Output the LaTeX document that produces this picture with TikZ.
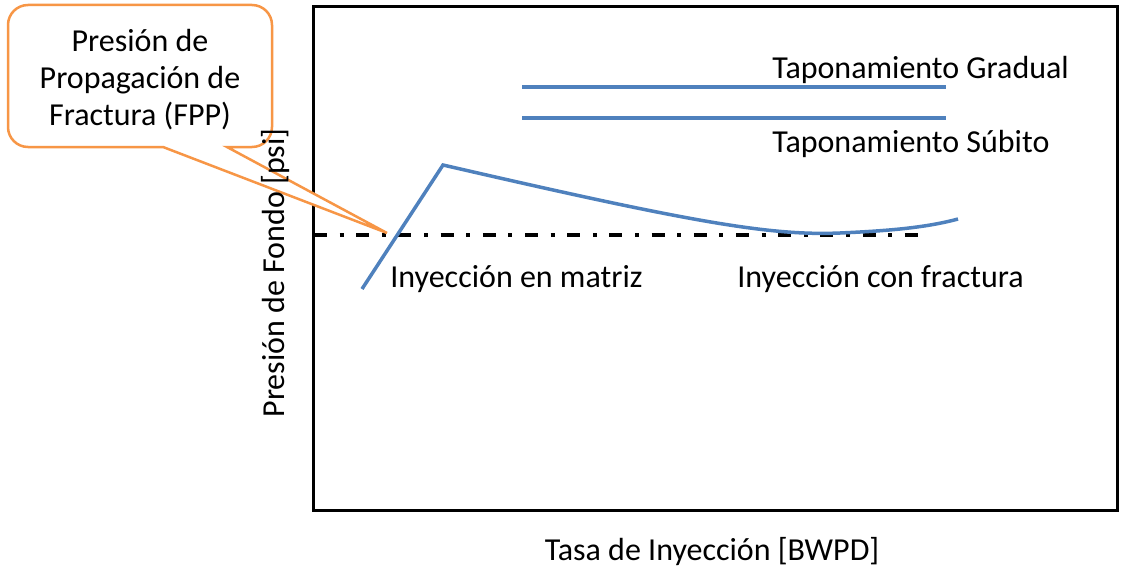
\documentclass[tikz,border=0pt]{standalone}
\usepackage{fontspec}
\setmainfont{Carlito}
\usetikzlibrary{positioning}
\definecolor{azul}{RGB}{79,129,189}
\definecolor{naranja}{RGB}{247,150,70}

\begin{document}
\begin{tikzpicture}[x=0.5pt,y=-0.5pt,font=\fontsize{16}{18.5}\selectfont,
    curva/.style={azul,line width=1.75pt},
    etiq/.style={inner sep=0pt,anchor=base west}]
    \useasboundingbox (0,0) rectangle (1122,567);
    % marco del grafico
    \draw[line width=1.5pt] (313,7) rectangle (1117,510);
    \node[inner sep=0pt,anchor=base] (ejex) at (712,560) {Tasa de Inyección [BWPD]};
    % taponamiento
    \draw[curva] (522,87) -- (946,87);
    \draw[curva] (522,118) -- (946,118);
    \node[etiq] (gradual) at (772,79) {Taponamiento Gradual};
    \node[etiq] (subito) at (772,152) {Taponamiento Súbito};
    % presion de propagacion
    \draw[line width=2pt,dash pattern=on 6.5pt off 6.3pt on 2pt off 6.3pt] (314,235) -- (918,235);
    \draw[curva] (362,289) -- (443,165)
      .. controls (690,222) and (770,236) .. (840,233)
      .. controls (885,231) and (925,228) .. (958,219);
    \node[etiq] (matriz) at (390,287) {Inyección en matriz};
    \node[etiq] (fractura) at (737,287) {Inyección con fractura};
    % globo FPP
    \draw[naranja,line width=1.25pt,fill=white] (387,233) -- (163,147)
      [rounded corners=10pt] -- (8,147) -- (8,5) -- (272,5) -- (272,147)
      [sharp corners] -- (227,147) -- cycle;
    \node[align=center,inner sep=0pt] (fpp) at (140,80) {Presión de\\Propagación de\\Fractura (FPP)};
    \node[inner sep=0pt,anchor=base,rotate=90] (ejey) at (284,273) {Presión de Fondo [psi]};
\end{tikzpicture}
\end{document}
